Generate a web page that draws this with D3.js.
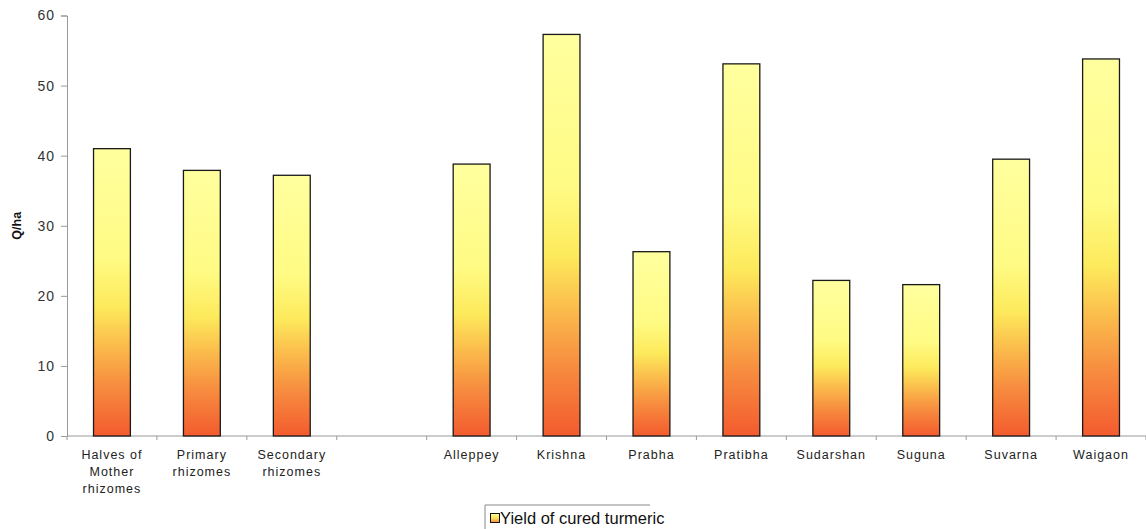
<!DOCTYPE html>
<html>
<head>
<meta charset="utf-8">
<script src="https://cdn.jsdelivr.net/npm/d3@7"></script>
<style>
  html, body { margin: 0; padding: 0; background: #fff; }
  svg { display: block; font-family: "Liberation Sans", Arial, sans-serif; }
</style>
</head>
<body>
<svg id="chart" width="1146" height="529"></svg>
<script>
// Cured turmeric yield (Q/ha) by planting material and by variety
const categories = [
  "Halves of|Mother|rhizomes", "Primary|rhizomes", "Secondary|rhizomes", "",
  "Alleppey", "Krishna", "Prabha", "Pratibha", "Sudarshan", "Suguna", "Suvarna", "Waigaon"
];
const yieldValues = [41.0, 37.9, 37.2, null, 38.8, 57.3, 26.3, 53.1, 22.2, 21.6, 39.5, 53.8];
const yTicks = [0, 10, 20, 30, 40, 50, 60];
const seriesName = "Yield of cured turmeric";
const yTitle = "Q/ha";

const svg = d3.select("#chart");
const W = 1146;
const margin = { left: 67, right: 0, top: 15.5 };

const x = d3.scaleBand()
  .domain(categories.map((c, i) => i))
  .range([margin.left, W - margin.right])
  .paddingInner(0.59)
  .paddingOuter(0.295);

const y = d3.scaleLinear().domain([0, 60]).range([436, margin.top]);

// Vertical gradient per bar: pale yellow on top fading to orange-red at the base
const defs = svg.append("defs");
const grad = defs.append("linearGradient")
  .attr("id", "barFill")
  .attr("x1", 0).attr("y1", 0).attr("x2", 0).attr("y2", 1);
[[0, "#ffff9e"], [0.38, "#fffb84"], [0.55, "#fdea5c"], [0.68, "#fbbd4c"],
 [0.82, "#f78e40"], [1, "#f35b2e"]]
  .forEach(([o, c]) => grad.append("stop").attr("offset", o).attr("stop-color", c));

const gradL = defs.append("linearGradient")
  .attr("id", "legendFill")
  .attr("x1", 0).attr("y1", 0).attr("x2", 0).attr("y2", 1);
[[0, "#ffff9e"], [0.5, "#fde35c"], [1, "#f7893e"]]
  .forEach(([o, c]) => gradL.append("stop").attr("offset", o).attr("stop-color", c));

// Y axis
const yAxis = svg.append("g")
  .attr("transform", `translate(${margin.left},0)`)
  .call(d3.axisLeft(y).tickValues(yTicks).tickSize(6).tickPadding(6));
yAxis.select(".domain").attr("stroke", "#999");
yAxis.selectAll(".tick line").attr("stroke", "#999");
yAxis.selectAll(".tick text")
  .attr("fill", "#333")
  .style("font-size", "14px")
  .style("letter-spacing", "1px");

// X axis with ticks at category boundaries
const step = x.step();
const xAxisG = svg.append("g").attr("transform", "translate(0,436)");
xAxisG.append("line")
  .attr("x1", margin.left).attr("x2", W)
  .attr("stroke", "#999");
xAxisG.selectAll("line.tk")
  .data(d3.range(categories.length + 1))
  .join("line")
  .attr("class", "tk")
  .attr("x1", i => margin.left + i * step)
  .attr("x2", i => margin.left + i * step)
  .attr("y1", 0).attr("y2", 4)
  .attr("stroke", "#999");

// Category labels (multi-line)
const labels = svg.append("g");
categories.forEach((c, i) => {
  if (!c) return;
  const cx = x(i) + x.bandwidth() / 2;
  const t = labels.append("text")
    .attr("x", cx)
    .attr("y", 459)
    .attr("text-anchor", "middle")
    .attr("fill", "#222")
    .style("font-size", "12.5px")
    .style("letter-spacing", "1px");
  c.split("|").forEach((line, k) => {
    t.append("tspan")
      .attr("x", cx)
      .attr("dy", k === 0 ? 0 : 17)
      .text(line);
  });
});

// Bars
svg.append("g")
  .selectAll("rect")
  .data(yieldValues.map((v, i) => ({ v, i })).filter(d => d.v != null))
  .join("rect")
  .attr("x", d => x(d.i))
  .attr("width", x.bandwidth())
  .attr("y", d => y(d.v))
  .attr("height", d => y(0) - y(d.v))
  .attr("fill", "url(#barFill)")
  .attr("stroke", "#1a1a1a")
  .attr("stroke-width", 1.3);

// Y axis title
svg.append("text")
  .attr("transform", `translate(21,${(y(0) + y(60)) / 2}) rotate(-90)`)
  .attr("text-anchor", "middle")
  .attr("fill", "#111")
  .style("font-size", "12.5px")
  .style("font-weight", "bold")
  .text(yTitle);

// Legend
const lg = svg.append("g").attr("transform", "translate(485,505)");
lg.append("path")
  .attr("d", "M0,24 V0 H165")
  .attr("fill", "none")
  .attr("stroke", "#888")
  .attr("stroke-width", 1);
lg.append("rect")
  .attr("x", 5.5).attr("y", 8.5).attr("width", 9).attr("height", 9)
  .attr("fill", "url(#legendFill)")
  .attr("stroke", "#111")
  .attr("stroke-width", 1);
lg.append("text")
  .attr("x", 15).attr("y", 19)
  .attr("fill", "#111")
  .style("font-size", "16.5px")
  .text(seriesName);
</script>
</body>
</html>
